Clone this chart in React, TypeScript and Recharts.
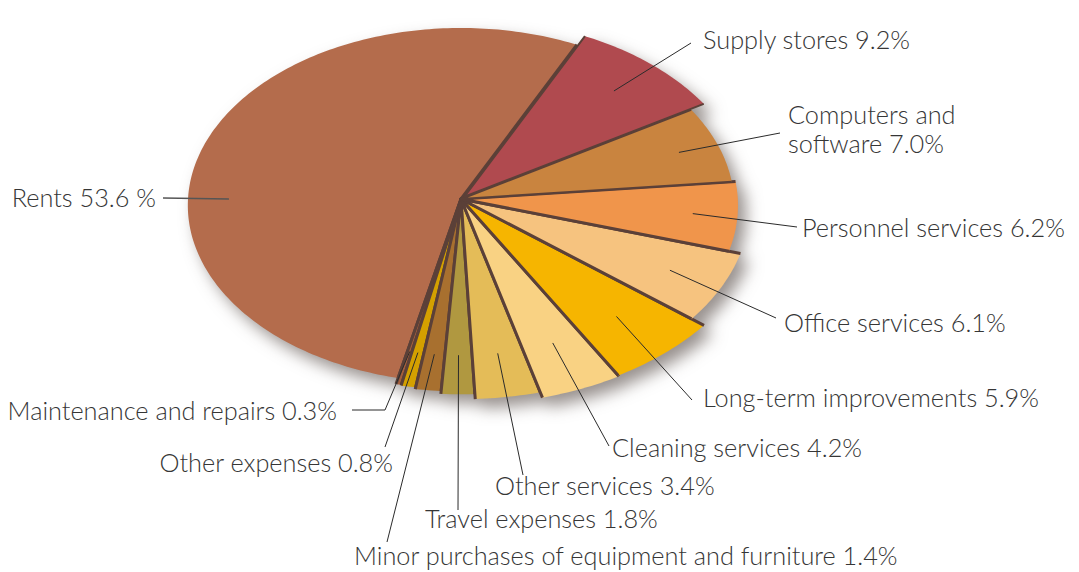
import { Pie, PieChart } from "recharts";

const categories = [
  "Rents",
  "Maintenance and repairs",
  "Other expenses",
  "Minor purchases of equipment and furniture",
  "Travel expenses",
  "Other services",
  "Cleaning services",
  "Long-term improvements",
  "Office services",
  "Personnel services",
  "Computers and software",
  "Supply stores",
];

const shares = [53.6, 0.3, 0.8, 1.4, 1.8, 3.4, 4.2, 5.9, 6.1, 6.2, 7.0, 9.2];

const labelTexts = [
  ["Rents 53.6 %"],
  ["Maintenance and repairs 0.3%"],
  ["Other expenses 0.8%"],
  ["Minor purchases of equipment and furniture 1.4%"],
  ["Travel expenses 1.8%"],
  ["Other services 3.4%"],
  ["Cleaning services 4.2%"],
  ["Long-term improvements 5.9%"],
  ["Office services 6.1%"],
  ["Personnel services 6.2%"],
  ["Computers and", "software 7.0%"],
  ["Supply stores 9.2%"],
];

const palette = [
  "#b46c4c",
  "#a55f3c",
  "#d4a000",
  "#a8702f",
  "#b09840",
  "#e4bc58",
  "#f9d283",
  "#f6b500",
  "#f6c37f",
  "#f0954b",
  "#c9843f",
  "#b04a4f",
];

const chartData = categories.map((name, i) => ({
  name,
  value: shares[i],
  fill: palette[i],
}));

// tilted look: squash vertically, a touch of perspective
const RAD = Math.PI / 180;
const SQUASH = 0.649;
const PERSPECTIVE = 0.036;
const EDGE = "#5b4038";
const TEXT = "#363636";

function project(cx: number, cy: number, r: number, deg: number) {
  const s = -Math.sin(deg * RAD);
  const w = 1 / (1 - PERSPECTIVE * s);
  return [cx + r * Math.cos(deg * RAD) * w, cy + r * SQUASH * s * w];
}

// lower right wedges stick out a bit further than the rest
function bulge(mid: number) {
  const d = (((mid % 360) + 360) % 360) - 300;
  return 1 + 0.125 * Math.exp(-(d * d) / (2 * 26 * 26));
}

const pullOut: Record<string, number> = { "Supply stores": 5 };

function EllipseSlice(props: any) {
  const { cx, cy, outerRadius, startAngle, endAngle, fill, payload } = props;
  const mid = (startAngle + endAngle) / 2;
  const pull = pullOut[payload?.name] ?? 0;
  const r = outerRadius * (bulge(mid) + (pull ? 0.04 : 0));
  const ox = cx + pull * Math.cos(mid * RAD);
  const oy = cy - pull * Math.sin(mid * RAD) * SQUASH;
  const steps = Math.max(2, Math.ceil(Math.abs(endAngle - startAngle)));
  const pts: number[][] = [];
  for (let i = 0; i <= steps; i++) {
    const a = startAngle + ((endAngle - startAngle) * i) / steps;
    pts.push(project(ox, oy, r, a));
  }
  const arc = pts.map((p) => `L${p[0].toFixed(2)},${p[1].toFixed(2)}`).join("");
  const first = pts[0];
  const last = pts[pts.length - 1];
  // the upper right wedges have finer dividers
  const thin = ((mid % 360) + 360) % 360 < 60;
  return (
    <g>
      <path d={`M${ox},${oy}${arc}Z`} fill={fill} stroke="none" />
      <path
        d={`M${first[0]},${first[1]}L${ox},${oy}L${last[0]},${last[1]}`}
        fill="none"
        stroke={EDGE}
        strokeWidth={thin ? 2 : 3}
        strokeLinejoin="round"
      />
    </g>
  );
}

type Spot = {
  x: number;
  y: number;
  anchor: "start" | "end";
  end: number[];
  elbow?: number[];
  angle?: number;
};

// where each callout text sits and where its leader line stops
const labelSpots: Record<string, Spot> = {
  Rents: { x: 156, y: 207, anchor: "end", end: [163, 198], angle: 180 },
  "Maintenance and repairs": { x: 337, y: 420, anchor: "end", end: [352, 410], elbow: [385, 410] },
  "Other expenses": { x: 393, y: 472, anchor: "end", end: [385, 447] },
  "Minor purchases of equipment and furniture": { x: 354, y: 565, anchor: "start", end: [387, 542] },
  "Travel expenses": { x: 425, y: 528, anchor: "start", end: [458, 510] },
  "Other services": { x: 495, y: 495, anchor: "start", end: [523, 475] },
  "Cleaning services": { x: 612, y: 457, anchor: "start", end: [609, 446] },
  "Long-term improvements": { x: 703, y: 407, anchor: "start", end: [692, 400] },
  "Office services": { x: 784, y: 332, anchor: "start", end: [776, 318] },
  "Personnel services": { x: 802, y: 237, anchor: "start", end: [797, 227] },
  "Computers and software": { x: 788, y: 124, anchor: "start", end: [780, 133] },
  "Supply stores": { x: 703, y: 49, anchor: "start", end: [691, 43] },
};

function SliceLabel(props: any) {
  const { cx, cy, midAngle, outerRadius, index } = props;
  const name = categories[index];
  const spot = labelSpots[name];
  if (!spot) return null;
  const [ax, ay] = project(cx, cy, outerRadius * 0.85, spot.angle ?? midAngle);
  const path = [[ax, ay], ...(spot.elbow ? [spot.elbow] : []), spot.end]
    .map((p, i) => `${i ? "L" : "M"}${p[0]},${p[1]}`)
    .join("");
  return (
    <g>
      <path
        d={path}
        fill="none"
        stroke={name === "Rents" ? "#555" : "#2b2b2b"}
        strokeWidth={name === "Rents" ? 1.6 : 1}
      />
      <text
        x={spot.x}
        y={spot.y}
        textAnchor={spot.anchor}
        fill={TEXT}
        fontSize={25.3}
        fontWeight={300}
        fontFamily="'Lato Light', Lato, 'Open Sans', sans-serif"
      >
        {labelTexts[index].map((line, i) => (
          <tspan key={i} x={spot.x} dy={i ? 29 : 0}>
            {line}
          </tspan>
        ))}
      </text>
    </g>
  );
}

export default function App() {
  return (
    <div
      style={{
        position: "absolute",
        left: 0,
        top: 0,
        width: 1079,
        height: 572,
        background: "#fff",
      }}
    >
      <style>{`g:has(> .recharts-pie-sector) { filter: drop-shadow(8px 9px 8px rgba(50, 35, 30, 0.5)); }`}</style>
      <PieChart width={1079} height={572} margin={{ top: 0, right: 0, bottom: 0, left: 0 }}>
        <Pie
          data={chartData}
          dataKey="value"
          nameKey="name"
          cx={461}
          cy={199}
          outerRadius={273}
          startAngle={64}
          endAngle={424}
          stroke="none"
          shape={EllipseSlice}
          activeShape={EllipseSlice}
          label={SliceLabel}
          labelLine={false}
          isAnimationActive={false}
        />
      </PieChart>
    </div>
  );
}
